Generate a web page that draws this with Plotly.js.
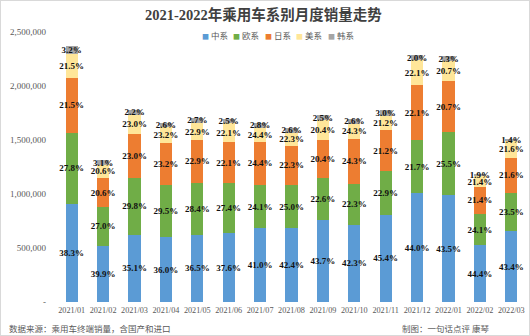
<!DOCTYPE html>
<html>
<head>
<meta charset="utf-8">
<script src="https://cdn.plot.ly/plotly-3.0.1.min.js"></script>
<style>
html,body{margin:0;padding:0;background:#fff;}
#wrap{position:relative;width:530px;height:336px;}
#chart{width:530px;height:336px;}
#frame{position:absolute;left:0;top:0;width:530px;height:336px;box-sizing:border-box;border:1px solid #d9d9d9;pointer-events:none;}
</style>
</head>
<body>
<div id="wrap"><div id="chart"></div><div id="frame"></div></div>
<script>
const months = ["2021/01","2021/02","2021/03","2021/04","2021/05","2021/06","2021/07","2021/08","2021/09","2021/10","2021/11","2021/12","2022/01","2022/02","2022/03"];
const seriesNames = ["中系","欧系","日系","美系","韩系"];
const seriesColors = ["#5B9BD5","#70AD47","#ED7D31","#FFE699","#A5A5A5"];

const chinese = [908000,523000,623000,598000,622000,638000,681000,683000,755000,717000,807000,1005000,990000,527000,655000];
const european = [659000,354000,529000,490000,484000,465000,400000,402000,391000,378000,407000,496000,581000,286000,355000];
const japanese = [510000,270000,408000,385000,390000,375000,405000,359000,353000,412000,377000,505000,471000,254000,326000];
const american = [218000,123000,176000,144000,162000,177000,128000,124000,187000,144000,133000,233000,189000,97000,153000];
const korean = [76000,41000,39000,43000,46000,42000,46000,42000,43000,44000,53000,46000,46000,23000,21000];

// percentage labels as printed in the chart
const chineseLabels = [38.3,39.9,35.1,36.0,36.5,37.6,41.0,42.4,43.7,42.3,45.4,44.0,43.5,44.4,43.4];
const europeanLabels = [27.8,27.0,29.8,29.5,28.4,27.4,24.1,25.0,22.6,22.3,22.9,21.7,25.5,24.1,23.5];
const japaneseLabels = [21.5,20.6,23.0,23.2,22.9,22.1,24.4,22.3,20.4,24.3,21.2,22.1,20.7,21.4,21.6];
const americanLabels = [21.5,20.6,23.0,23.2,22.9,22.1,24.4,22.3,20.4,24.3,21.2,22.1,20.7,21.4,21.6];
const koreanLabels = [3.2,3.1,2.2,2.6,2.7,2.5,2.8,2.6,2.5,2.6,3.0,2.0,2.3,1.9,1.4];

const yTickVals = [0,500000,1000000,1500000,2000000,2500000];
const yTickText = ["-","500,000","1,000,000","1,500,000","2,000,000","2,500,000"];

const values = [chinese, european, japanese, american, korean];
const labels = [chineseLabels, europeanLabels, japaneseLabels, americanLabels, koreanLabels];

const serif = "'Liberation Serif','Times New Roman',serif";

const traces = values.map((v, i) => ({
  type: 'bar',
  name: seriesNames[i],
  x: months,
  y: v,
  text: labels[i].map(p => p.toFixed(1) + '%'),
  textposition: 'inside',
  insidetextanchor: 'middle',
  textangle: 0,
  constraintext: 'none',
  cliponaxis: false,
  textfont: {family: serif, size: 9, color: '#111', weight: 'bold'},
  marker: {color: seriesColors[i], line: {width: 0}},
  hoverinfo: 'none'
}));

// legend drawn as annotations (compact, like the source)
const plotLeft = 56, plotWidth = 471;
const legendStart = 200, legendStep = 31.4;
const annotations = seriesNames.map((n, i) => ({
  xref: 'paper', yref: 'paper',
  x: (legendStart + i * legendStep - plotLeft) / plotWidth,
  y: 0.99, xanchor: 'left', yanchor: 'middle',
  showarrow: false,
  text: "<span style='color:" + seriesColors[i] + ";font-size:7px'>■</span> " + n,
  font: {family: "'Noto Sans CJK SC',sans-serif", size: 8.5, color: '#595959'}
}));
annotations.push({
  xref: 'paper', yref: 'paper', x: (7 - plotLeft) / plotWidth, y: -0.095,
  xanchor: 'left', yanchor: 'middle', showarrow: false,
  text: '数据来源：乘用车终端销量，含国产和进口',
  font: {family: "'Noto Sans CJK SC',sans-serif", size: 8.5, color: '#595959'}
});
annotations.push({
  xref: 'paper', yref: 'paper', x: (400 - plotLeft) / plotWidth, y: -0.095,
  xanchor: 'left', yanchor: 'middle', showarrow: false,
  text: '制图：一句话点评 康琴',
  font: {family: "'Noto Sans CJK SC',sans-serif", size: 8.5, color: '#595959'}
});

const layout = {
  width: 530, height: 336,
  margin: {l: 56, r: 3, t: 31.5, b: 33.5},
  paper_bgcolor: '#fff', plot_bgcolor: '#fff',
  barmode: 'stack',
  bargap: 0.61,
  showlegend: false,
  title: {
    text: '2021-2022年乘用车系别月度销量走势',
    font: {family: "'Liberation Serif','Noto Sans CJK SC',serif", size: 14.5, color: '#404040', weight: 'bold'},
    x: 0.497, xanchor: 'center', xref: 'container',
    y: 0.955, yanchor: 'middle', yref: 'container'
  },
  xaxis: {
    type: 'category',
    showgrid: false, zeroline: false, showline: false, ticks: '',
    tickangle: 0,
    ticklabelstandoff: 2,
    tickfont: {family: serif, size: 8.2, color: '#595959'},
    fixedrange: true
  },
  yaxis: {
    range: [0, 2500000],
    tickvals: yTickVals, ticktext: yTickText,
    showgrid: false, zeroline: false, showline: false, ticks: '',
    ticklabelstandoff: 9,
    tickfont: {family: serif, size: 9, color: '#595959'},
    fixedrange: true
  },
  annotations: annotations
};

Plotly.newPlot('chart', traces, layout, {displayModeBar: false, staticPlot: true});
</script>
</body>
</html>
